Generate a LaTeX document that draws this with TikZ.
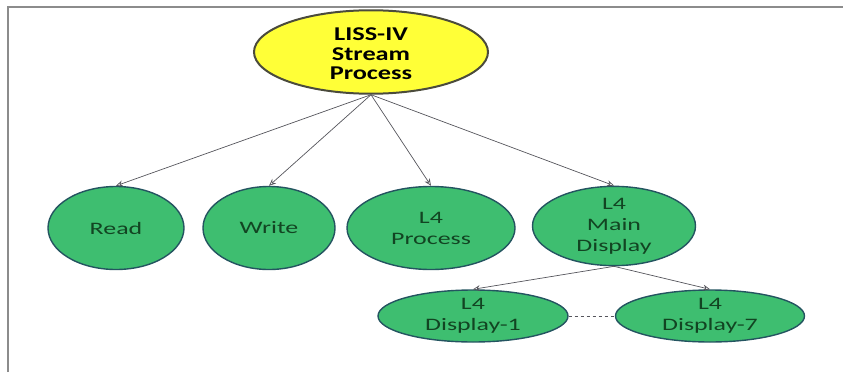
\documentclass[tikz,border=0pt]{standalone}
\usepackage{fontspec}
\setmainfont{Carlito}[FakeStretch=1.35]
\newfontfamily\leaffont{Carlito}[FakeStretch=1.48]
\usetikzlibrary{shapes.geometric,arrows.meta}
\definecolor{gfill}{RGB}{62,190,112}
\definecolor{gborder}{RGB}{36,84,96}
\definecolor{gtext}{RGB}{18,68,34}
\definecolor{yfill}{RGB}{255,255,55}
\definecolor{yborder}{RGB}{75,75,60}
\definecolor{lgray}{RGB}{85,85,92}
\definecolor{framegray}{RGB}{140,140,140}
\begin{document}
\begin{tikzpicture}[x=1pt,y=-1pt,
  leaf/.style={ellipse, draw=gborder, line width=1.4pt, fill=gfill, text=gtext,
    inner sep=0pt, align=center, font=\leaffont\fontsize{17.5}{21}\selectfont},
  rootnode/.style={ellipse, draw=yborder, line width=2pt, fill=yfill, text=black,
    inner sep=0pt, align=center, font=\fontsize{19.5}{20}\selectfont\bfseries},
  conn/.style={draw=lgray, line width=0.7pt, -{Stealth[length=7pt,width=6pt,open]}},
  dashconn/.style={draw=lgray, line width=0.9pt, dashed}]
\useasboundingbox (0,0) rectangle (843,372);
\draw[framegray, line width=2pt] (8,372) -- (8,6.5) -- (843,6.5);

\node[rootnode, minimum width=234pt, minimum height=67pt] (root) at (371,52)
  {\raisebox{-4pt}[\height][\depth]{\begin{tabular}{@{}c@{}}LISS-IV\\[-0.5pt]Stream\\[-0.5pt]Process\end{tabular}}};

\node[leaf, minimum width=136pt, minimum height=83pt] (read) at (116,228) {Read};
\node[leaf, minimum width=132pt, minimum height=83pt] (write) at (269,228) {Write};
\node[leaf, minimum width=168pt, minimum height=83pt] (proc) at (431,228) {L4\\Process};
\node[leaf, minimum width=163pt, minimum height=79pt] (main) at (614,226) {L4\\Main\\Display};
\node[leaf, minimum width=190pt, minimum height=52pt] (d1) at (473,316) {L4\\Display-1};
\node[leaf, minimum width=189pt, minimum height=52pt] (d7) at (710,316) {L4\\Display-7};

\draw[conn] (root.south) -- (read.north);
\draw[conn] (root.south) -- (write.north);
\draw[conn] (root.south) -- (proc.north);
\draw[conn] (root.south) -- (main.north);
\draw[conn] (main.south) -- (d1.north);
\draw[conn] (main.south) -- (d7.north);
\draw[dashconn] (d1.east) -- (d7.west);
\end{tikzpicture}
\end{document}
